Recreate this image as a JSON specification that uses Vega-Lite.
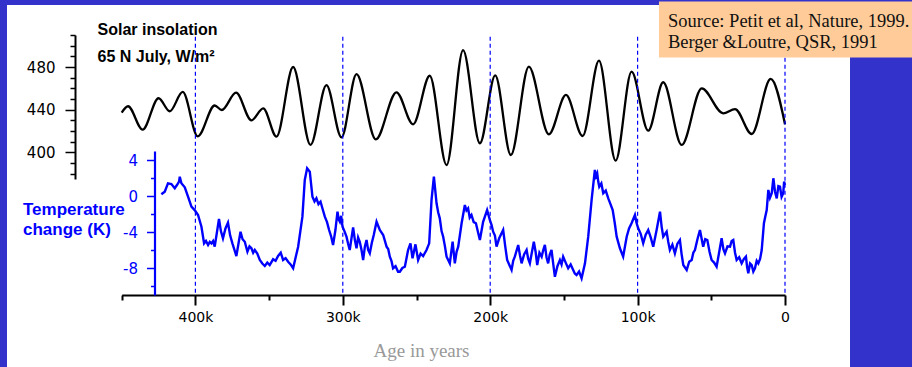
{
  "$schema": "https://vega.github.io/schema/vega-lite/v6.json",
  "width": 843,
  "height": 362,
  "autosize": {"type": "none"},
  "padding": {"left": 7, "top": 5, "right": 62, "bottom": 0},
  "background": "#3333CC",
  "config": {"view": {"fill": "white", "stroke": null}, "font": "Liberation Sans"},
  "datasets": {
    "insolation": [
      {"age": 450, "ins": 437.2}, {"age": 445.7, "ins": 443.2}, {"age": 435.8, "ins": 421.2}, {"age": 425.0, "ins": 450.7},
      {"age": 417.4, "ins": 438.5}, {"age": 408.6, "ins": 456.6}, {"age": 398.4, "ins": 415.0}, {"age": 386.9, "ins": 443.9},
      {"age": 382.1, "ins": 439.7}, {"age": 372.4, "ins": 455.9}, {"age": 362.0, "ins": 430.0}, {"age": 354.0, "ins": 441.3},
      {"age": 345.0, "ins": 414.7}, {"age": 333.7, "ins": 480.0}, {"age": 321.9, "ins": 406.9}, {"age": 311.1, "ins": 463.1},
      {"age": 300.9, "ins": 414.1}, {"age": 290.7, "ins": 473.4}, {"age": 277.6, "ins": 412.2}, {"age": 263.6, "ins": 456.3},
      {"age": 252.3, "ins": 426.3}, {"age": 241.0, "ins": 471.8}, {"age": 229.6, "ins": 388.1}, {"age": 218.4, "ins": 495.9},
      {"age": 207.0, "ins": 408.5}, {"age": 196.6, "ins": 472.2}, {"age": 186.0, "ins": 397.5}, {"age": 173.8, "ins": 480.3},
      {"age": 160.2, "ins": 416.9}, {"age": 148.6, "ins": 453.8}, {"age": 137.3, "ins": 415.3}, {"age": 126.2, "ins": 485.9},
      {"age": 114.9, "ins": 392.2}, {"age": 104.1, "ins": 475.6}, {"age": 92.8, "ins": 420.3}, {"age": 82.6, "ins": 465.7},
      {"age": 70.1, "ins": 406.9}, {"age": 56.5, "ins": 460.0}, {"age": 41.9, "ins": 436.6}, {"age": 33.9, "ins": 440.6},
      {"age": 22.6, "ins": 417.2}, {"age": 9.7, "ins": 468.8}, {"age": 0, "ins": 426.3}
    ],
    "temperature": [
      {"age": 423.1, "temp": 0.19}, {"age": 420.8, "temp": 0.48}, {"age": 418.6, "temp": 1.41}, {"age": 416.3, "temp": 1.33},
      {"age": 414.0, "temp": 0.86}, {"age": 412.5, "temp": 1.22}, {"age": 411.1, "temp": 1.59}, {"age": 410.6, "temp": 2.14},
      {"age": 409.5, "temp": 1.41}, {"age": 407.2, "temp": 0.97}, {"age": 405.0, "temp": -0.08}, {"age": 402.7, "temp": -1.19},
      {"age": 400.5, "temp": -1.56}, {"age": 398.2, "temp": -2.11}, {"age": 395.9, "temp": -3.41}, {"age": 394.1, "temp": -5.26},
      {"age": 392.8, "temp": -5.0}, {"age": 391.4, "temp": -5.44}, {"age": 390.2, "temp": -5.1}, {"age": 389.1, "temp": -5.26},
      {"age": 388.0, "temp": -5.0}, {"age": 386.9, "temp": -5.63}, {"age": 384.0, "temp": -2.56}, {"age": 382.7, "temp": -3.9},
      {"age": 381.3, "temp": -4.7}, {"age": 379.6, "temp": -3.6}, {"age": 377.9, "temp": -2.97}, {"age": 376.4, "temp": -4.4},
      {"age": 374.9, "temp": -5.26}, {"age": 372.2, "temp": -6.67}, {"age": 369.4, "temp": -3.97}, {"age": 368.0, "temp": -4.8},
      {"age": 366.5, "temp": -5.08}, {"age": 364.7, "temp": -6.19}, {"age": 363.3, "temp": -5.6}, {"age": 362.0, "temp": -5.81},
      {"age": 360.8, "temp": -6.3}, {"age": 359.7, "temp": -6.0}, {"age": 358.0, "temp": -6.4}, {"age": 356.3, "temp": -7.11},
      {"age": 354.6, "temp": -7.5}, {"age": 352.9, "temp": -7.78}, {"age": 351.2, "temp": -7.4}, {"age": 349.6, "temp": -7.67},
      {"age": 347.3, "temp": -7.03}, {"age": 345.6, "temp": -7.2}, {"age": 343.9, "temp": -6.67}, {"age": 342.1, "temp": -6.3},
      {"age": 340.5, "temp": -7.11}, {"age": 338.8, "temp": -6.9}, {"age": 337.1, "temp": -7.3}, {"age": 335.4, "temp": -7.6},
      {"age": 333.7, "temp": -8.03}, {"age": 330.3, "temp": -5.63}, {"age": 327.4, "temp": -2.3}, {"age": 325.8, "temp": 1.78},
      {"age": 324.2, "temp": 3.08}, {"age": 322.4, "temp": 2.7}, {"age": 320.6, "temp": -0.08}, {"age": 319.2, "temp": -0.6},
      {"age": 317.9, "temp": -0.26}, {"age": 316.5, "temp": -0.9}, {"age": 315.1, "temp": -0.63}, {"age": 313.6, "temp": -1.5},
      {"age": 312.2, "temp": -2.3}, {"age": 310.7, "temp": -2.9}, {"age": 309.3, "temp": -3.78}, {"age": 307.9, "temp": -4.5},
      {"age": 306.6, "temp": -5.44}, {"age": 305.0, "temp": -3.78}, {"age": 303.6, "temp": -1.74}, {"age": 302.8, "temp": -2.6},
      {"age": 302.0, "temp": -2.86}, {"age": 301.1, "temp": -2.2}, {"age": 300.2, "temp": -3.41}, {"age": 298.9, "temp": -3.9},
      {"age": 297.5, "temp": -4.52}, {"age": 296.4, "temp": -5.3}, {"age": 295.3, "temp": -6.0}, {"age": 293.0, "temp": -3.48},
      {"age": 291.8, "temp": -4.9}, {"age": 290.7, "temp": -5.81}, {"age": 289.6, "temp": -4.6}, {"age": 288.5, "temp": -5.08},
      {"age": 287.3, "temp": -6.0}, {"age": 286.2, "temp": -7.11}, {"age": 285.0, "temp": -5.6}, {"age": 283.9, "temp": -4.89},
      {"age": 282.8, "temp": -6.0}, {"age": 281.7, "temp": -6.37}, {"age": 280.3, "temp": -5.2}, {"age": 279.0, "temp": -4.33},
      {"age": 277.1, "temp": -2.86}, {"age": 274.9, "temp": -3.78}, {"age": 272.6, "temp": -4.33}, {"age": 270.3, "temp": -5.63},
      {"age": 269.2, "temp": -5.9}, {"age": 268.1, "temp": -6.74}, {"age": 267.0, "temp": -7.2}, {"age": 265.9, "temp": -8.03},
      {"age": 264.2, "temp": -7.8}, {"age": 262.5, "temp": -8.41}, {"age": 261.3, "temp": -8.41}, {"age": 259.6, "temp": -8.0},
      {"age": 257.9, "temp": -7.86}, {"age": 255.7, "temp": -6.0}, {"age": 254.1, "temp": -5.26}, {"age": 252.7, "temp": -6.92},
      {"age": 250.7, "temp": -5.37}, {"age": 248.9, "temp": -7.11}, {"age": 247.2, "temp": -6.4}, {"age": 245.5, "temp": -6.67},
      {"age": 243.2, "temp": -6.0}, {"age": 241.4, "temp": -5.26}, {"age": 239.8, "temp": -0.44}, {"age": 238.2, "temp": 2.14},
      {"age": 236.4, "temp": -0.81}, {"age": 235.3, "temp": -1.8}, {"age": 234.2, "temp": -2.48}, {"age": 233.0, "temp": -3.9},
      {"age": 231.9, "temp": -4.52}, {"age": 230.7, "temp": -5.6}, {"age": 229.6, "temp": -6.74}, {"age": 227.4, "temp": -7.48},
      {"age": 225.5, "temp": -5.08}, {"age": 224.0, "temp": -7.48}, {"age": 222.8, "temp": -6.2}, {"age": 221.7, "temp": -5.63},
      {"age": 219.4, "temp": -3.03}, {"age": 217.2, "temp": -1.0}, {"age": 216.1, "temp": -1.6}, {"age": 215.0, "temp": -1.37},
      {"age": 213.9, "temp": -2.4}, {"age": 212.7, "temp": -2.11}, {"age": 211.2, "temp": -2.9}, {"age": 209.7, "temp": -3.03},
      {"age": 208.3, "temp": -4.0}, {"age": 207.0, "temp": -4.89}, {"age": 204.8, "temp": -2.86}, {"age": 202.1, "temp": -1.56},
      {"age": 200.2, "temp": -2.67}, {"age": 199.1, "temp": -3.2}, {"age": 198.0, "temp": -3.97}, {"age": 196.8, "temp": -4.4},
      {"age": 195.7, "temp": -5.63}, {"age": 193.9, "temp": -4.7}, {"age": 191.2, "temp": -3.78}, {"age": 189.8, "temp": -5.6},
      {"age": 188.5, "temp": -7.11}, {"age": 185.5, "temp": -8.22}, {"age": 184.4, "temp": -7.2}, {"age": 183.3, "temp": -6.74},
      {"age": 181.0, "temp": -5.44}, {"age": 179.8, "temp": -6.6}, {"age": 178.7, "temp": -7.48}, {"age": 177.0, "temp": -6.5},
      {"age": 175.3, "temp": -6.0}, {"age": 174.2, "temp": -7.0}, {"age": 173.1, "temp": -7.48}, {"age": 170.4, "temp": -5.08},
      {"age": 169.2, "temp": -6.2}, {"age": 168.1, "temp": -7.67}, {"age": 166.6, "temp": -6.3}, {"age": 165.1, "temp": -6.74},
      {"age": 164.0, "temp": -6.0}, {"age": 162.9, "temp": -5.44}, {"age": 161.8, "temp": -6.8}, {"age": 160.7, "temp": -7.48},
      {"age": 159.6, "temp": -6.5}, {"age": 158.4, "temp": -6.0}, {"age": 157.2, "temp": -7.6}, {"age": 156.1, "temp": -8.97},
      {"age": 154.4, "temp": -7.8}, {"age": 152.7, "temp": -7.11}, {"age": 151.6, "temp": -7.6}, {"age": 150.5, "temp": -6.74},
      {"age": 148.8, "temp": -7.4}, {"age": 147.1, "temp": -8.03}, {"age": 145.4, "temp": -7.6}, {"age": 143.7, "temp": -8.22},
      {"age": 142.6, "temp": -8.6}, {"age": 141.4, "temp": -8.78}, {"age": 139.7, "temp": -8.4}, {"age": 138.0, "temp": -9.14},
      {"age": 135.7, "temp": -7.48}, {"age": 133.5, "temp": -4.52}, {"age": 131.2, "temp": -0.44}, {"age": 129.0, "temp": 2.89},
      {"age": 128.2, "temp": 2.2}, {"age": 127.4, "temp": 2.52}, {"age": 126.7, "temp": 1.6}, {"age": 126.0, "temp": 1.03},
      {"age": 124.6, "temp": 1.4}, {"age": 123.3, "temp": 0.3}, {"age": 121.6, "temp": 0.6}, {"age": 119.9, "temp": -0.26},
      {"age": 118.4, "temp": -0.9}, {"age": 116.9, "temp": -1.56}, {"age": 115.5, "temp": -3.0}, {"age": 114.2, "temp": -4.52},
      {"age": 112.0, "temp": -5.81}, {"age": 109.8, "temp": -6.74}, {"age": 107.4, "temp": -4.52}, {"age": 105.8, "temp": -3.6},
      {"age": 104.1, "temp": -3.03}, {"age": 101.8, "temp": -2.11}, {"age": 100.7, "temp": -3.0}, {"age": 99.6, "temp": -3.59},
      {"age": 97.9, "temp": -4.2}, {"age": 96.2, "temp": -5.26}, {"age": 94.5, "temp": -4.3}, {"age": 92.8, "temp": -3.78},
      {"age": 91.1, "temp": -4.6}, {"age": 89.4, "temp": -5.63}, {"age": 87.1, "temp": -3.78}, {"age": 84.8, "temp": -1.74},
      {"age": 83.7, "temp": -3.4}, {"age": 82.6, "temp": -4.52}, {"age": 80.3, "temp": -3.97}, {"age": 79.2, "temp": -5.1},
      {"age": 78.1, "temp": -6.0}, {"age": 76.4, "temp": -5.4}, {"age": 74.7, "temp": -6.37}, {"age": 73.0, "temp": -5.3},
      {"age": 71.3, "temp": -4.89}, {"age": 70.2, "temp": -6.4}, {"age": 69.0, "temp": -7.67}, {"age": 66.7, "temp": -8.22},
      {"age": 65.0, "temp": -7.3}, {"age": 63.3, "temp": -7.11}, {"age": 62.2, "temp": -6.3}, {"age": 61.1, "temp": -6.0},
      {"age": 59.4, "temp": -4.8}, {"age": 57.7, "temp": -3.78}, {"age": 55.5, "temp": -5.63}, {"age": 54.1, "temp": -4.8},
      {"age": 52.7, "temp": -4.89}, {"age": 51.2, "temp": -6.2}, {"age": 49.8, "temp": -7.11}, {"age": 48.1, "temp": -7.4},
      {"age": 46.4, "temp": -7.86}, {"age": 43.0, "temp": -4.7}, {"age": 41.8, "temp": -5.9}, {"age": 40.7, "temp": -6.37},
      {"age": 39.0, "temp": -5.6}, {"age": 37.3, "temp": -5.63}, {"age": 36.2, "temp": -5.0}, {"age": 35.1, "temp": -4.89},
      {"age": 33.9, "temp": -6.3}, {"age": 32.8, "temp": -7.11}, {"age": 31.1, "temp": -6.8}, {"age": 29.4, "temp": -7.48},
      {"age": 27.9, "temp": -7.0}, {"age": 26.5, "temp": -6.74}, {"age": 25.7, "temp": -7.9}, {"age": 24.9, "temp": -8.59},
      {"age": 23.7, "temp": -7.5}, {"age": 22.6, "temp": -7.67}, {"age": 21.5, "temp": -8.4}, {"age": 20.4, "temp": -8.03},
      {"age": 19.2, "temp": -7.2}, {"age": 18.1, "temp": -7.48}, {"age": 16.9, "temp": -7.0}, {"age": 15.8, "temp": -6.0},
      {"age": 14.3, "temp": -3.03}, {"age": 13.4, "temp": -2.3}, {"age": 12.4, "temp": -1.56}, {"age": 11.3, "temp": 0.67},
      {"age": 10.2, "temp": -0.2}, {"age": 9.0, "temp": 0.3}, {"age": 7.9, "temp": 1.97}, {"age": 6.8, "temp": 0.5},
      {"age": 5.6, "temp": -0.26}, {"age": 4.5, "temp": 1.1}, {"age": 3.4, "temp": 1.03}, {"age": 2.3, "temp": -0.1},
      {"age": 1.2, "temp": 0.3}, {"age": 0.6, "temp": 1.6}, {"age": 0, "temp": 1.22}
    ],
    "gridlines": [{"age": 400}, {"age": 300}, {"age": 200}, {"age": 100}, {"age": 0}],
    "note": [{"text": "Source: Petit et al, Nature, 1999.\nBerger &Loutre, QSR, 1991"}]
  },
  "layer": [
    {
      "data": {"name": "insolation"},
      "mark": {"type": "line", "interpolate": "monotone", "color": "black", "strokeWidth": 2.3},
      "encoding": {
        "x": {
          "field": "age", "type": "quantitative",
          "scale": {"domain": [450, 0], "range": [114.7, 778], "nice": false, "zero": false},
          "axis": {
            "orient": "bottom",
            "values": [450, 400, 350, 300, 250, 200, 150, 100, 50, 0],
            "labelExpr": "datum.value % 100 == 0 ? (datum.value == 0 ? '0' : datum.value + 'k') : ''",
            "offset": -72, "grid": false,
            "domainColor": "black", "domainWidth": 2,
            "tickColor": "black", "tickWidth": 2,
            "tickSize": {"condition": {"test": "datum.value % 100 == 0", "value": 10}, "value": 5},
            "labelFont": "DejaVu Sans", "labelFontSize": 14, "labelColor": "black", "labelPadding": 5,
            "labelFlush": false, "labelOverlap": false,
            "title": "Age in years", "titleFont": "Liberation Serif", "titleFontSize": 19, "titleFontWeight": "normal",
            "titleColor": "#999999", "titleX": 414, "titleY": 55, "titleBaseline": "middle", "titleAlign": "center"
          }
        },
        "y": {
          "field": "ins", "type": "quantitative",
          "scale": {"domain": [375, 510], "range": [174, 30], "nice": false, "zero": false},
          "axis": {
            "orient": "left", "offset": -68, "grid": false,
            "values": [380, 390, 400, 410, 420, 430, 440, 450, 460, 470, 480, 490, 500, 510],
            "labelExpr": "datum.value % 40 == 0 ? datum.label : ''",
            "domainColor": "black", "domainWidth": 2,
            "tickColor": "black", "tickWidth": 1.5,
            "tickSize": {"condition": {"test": "datum.value % 40 == 0", "value": 10}, "value": 5},
            "labelFont": "DejaVu Sans", "labelFontSize": 15, "labelColor": "black", "labelPadding": 10,
            "labelOverlap": false,
            "title": ["Solar insolation", "65 N July, W/m²"],
            "titleAngle": 0, "titleAlign": "left", "titleBaseline": "top",
            "titleX": 22, "titleY": 16, "titleLineHeight": 27,
            "titleFont": "Liberation Sans", "titleFontSize": 16, "titleFontWeight": "bold", "titleColor": "black"
          }
        }
      }
    },
    {
      "layer": [
        {
          "data": {"name": "gridlines"},
          "mark": {"type": "rule", "color": "#0000FF", "strokeWidth": 1.2, "strokeDash": [4, 3]},
          "encoding": {
            "x": {"field": "age", "type": "quantitative"},
            "y": {"datum": 17.7, "type": "quantitative"},
            "y2": {"datum": -11}
          }
        },
        {
          "data": {"name": "temperature"},
          "mark": {"type": "line", "color": "#0000FF", "strokeWidth": 2.4},
          "encoding": {
            "x": {"field": "age", "type": "quantitative"},
            "y": {
              "field": "temp", "type": "quantitative",
              "scale": {"domain": [-11, 5], "range": [290, 146], "nice": false, "zero": false},
              "axis": {
                "orient": "left", "offset": -147.5, "grid": false,
                "values": [-10, -9, -8, -7, -6, -5, -4, -3, -2, -1, 0, 1, 2, 3, 4, 5],
                "labelExpr": "datum.value % 4 == 0 ? (datum.value < 0 ? '-' + (-datum.value) : '' + datum.value) : ''",
                "domainColor": "#0000FF", "domainWidth": 2.2,
                "tickColor": "#0000FF", "tickWidth": 1.5,
                "tickSize": {"condition": {"test": "datum.value % 4 == 0", "value": 8}, "value": 4},
                "labelFont": "DejaVu Sans", "labelFontSize": 15, "labelColor": "#0000FF", "labelPadding": 9,
                "labelOverlap": false,
                "title": ["Temperature", "change (K)"],
                "titleAngle": 0, "titleAlign": "left", "titleBaseline": "top",
                "titleX": -132, "titleY": 196, "titleLineHeight": 20,
                "titleFont": "Liberation Sans", "titleFontSize": 17, "titleFontWeight": "bold", "titleColor": "#0000FF"
              }
            }
          }
        },
        {
          "data": {"name": "note"},
          "mark": {"type": "rect", "color": "#FFCC99"},
          "encoding": {
            "x": {"datum": 85.5, "type": "quantitative"},
            "x2": {"datum": -86.2},
            "y": {"datum": 21.6, "type": "quantitative"},
            "y2": {"datum": 15.4}
          }
        },
        {
          "data": {"name": "note"},
          "mark": {"type": "text", "align": "left", "baseline": "top", "lineBreak": "\n", "font": "Liberation Serif", "fontSize": 18.5, "lineHeight": 21, "color": "#111111"},
          "encoding": {
            "x": {"datum": 79.4, "type": "quantitative"},
            "y": {"datum": 20.5, "type": "quantitative"},
            "text": {"field": "text"}
          }
        }
      ]
    }
  ],
  "resolve": {"scale": {"y": "independent"}, "axis": {"y": "independent"}}
}
